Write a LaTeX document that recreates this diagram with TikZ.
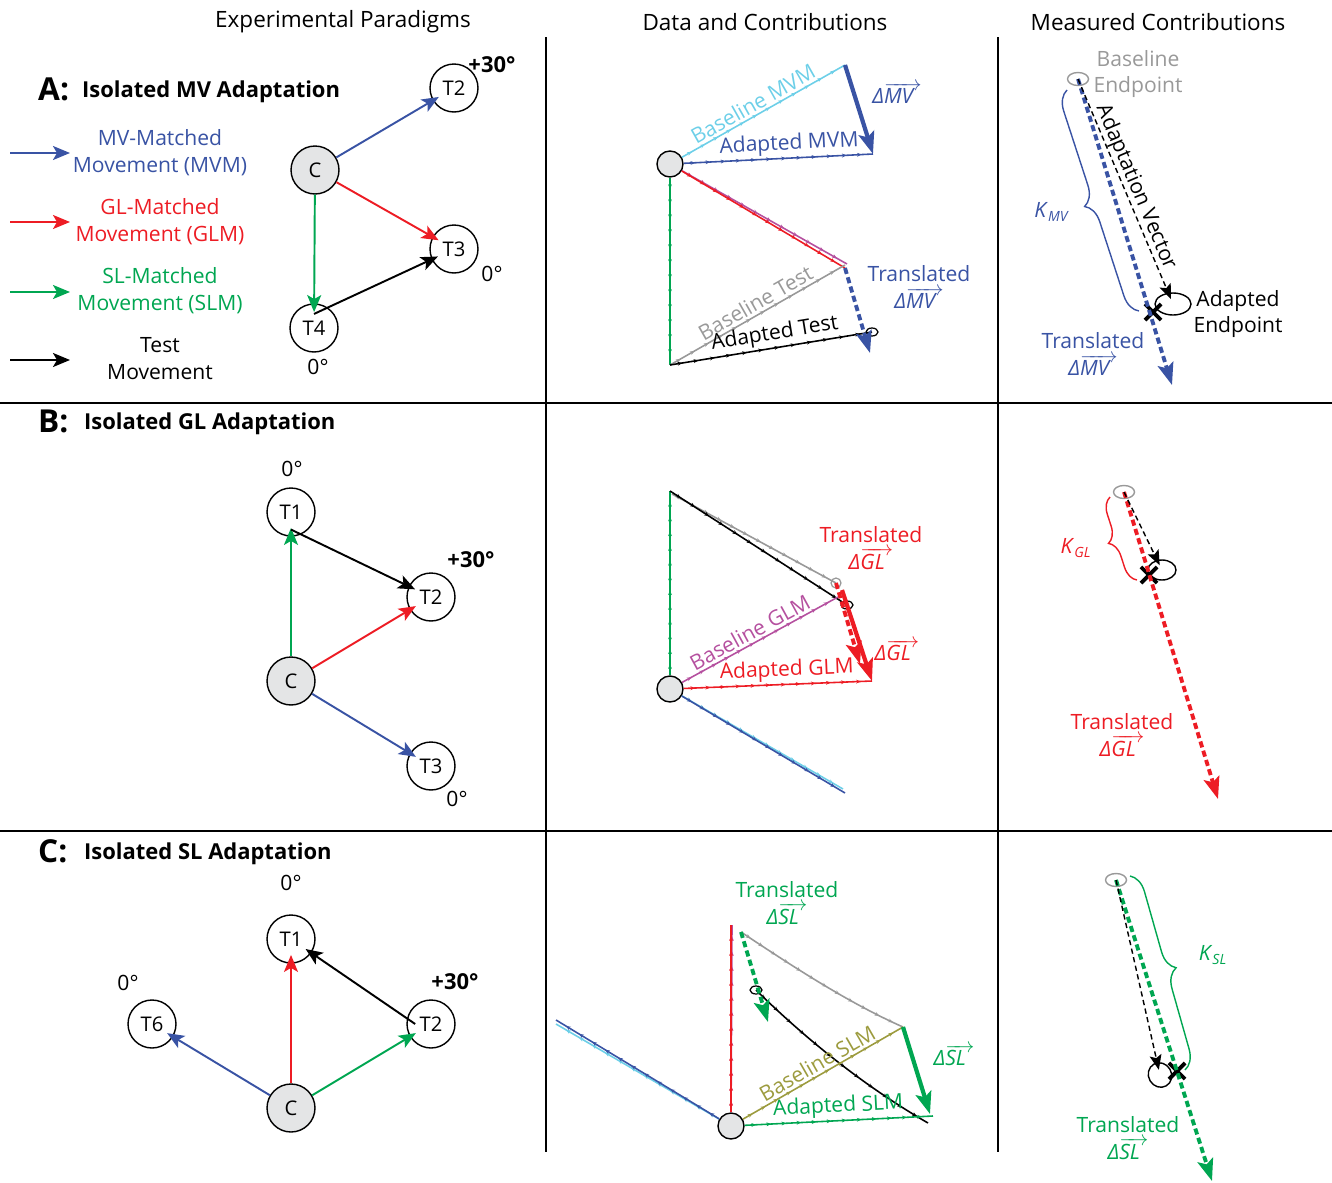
\documentclass[tikz,border=0pt]{standalone}
\usepackage{fontspec}
\setmainfont{Open Sans}
\usetikzlibrary{arrows.meta,shapes.geometric,shapes.misc,decorations.markings,decorations.pathreplacing}
\definecolor{MVBlue}{HTML}{3953A4}
\definecolor{GLRed}{HTML}{ED1C24}
\definecolor{SLGreen}{HTML}{00A651}
\definecolor{BaseCyan}{HTML}{6DCFE8}
\definecolor{BaseMagenta}{HTML}{B5509F}
\definecolor{BaseOlive}{HTML}{9C9B3E}
\definecolor{EndGray}{HTML}{999999}
\definecolor{HomeFill}{HTML}{E4E5E6}
\newcommand{\dvec}[1]{{\itshape Δ}$\overrightarrow{\textit{#1}\hspace{0.4em}}$}
\newcommand{\kgain}[1]{\textit{K}\textsubscript{\textit{#1}}}

\begin{document}
\begin{tikzpicture}[
    x=0.02cm, y=-0.02cm,
    header/.style={font=\fontsize{12.8}{15}\selectfont},
    paneltag/.style={anchor=west, font=\fontsize{18}{20}\selectfont\bfseries},
    paneltitle/.style={anchor=west, font=\fontsize{12.5}{15}\selectfont\bfseries},
    lbl/.style={align=center, font=\fontsize{12}{15.3}\selectfont},
    along/.style={lbl, sloped, above, inner sep=1.5pt},
    degtext/.style={font=\fontsize{12}{14}\selectfont},
    degbold/.style={font=\fontsize{12.5}{14}\selectfont\bfseries},
    target/.style={circle, draw, line width=0.8pt, minimum size=0.96cm,
      inner sep=0pt, font=\fontsize{11.5}{13}\selectfont},
    hometarget/.style={target, fill=HomeFill},
    startdot/.style={circle, draw, line width=0.8pt, fill=HomeFill,
      minimum size=0.52cm, inner sep=0pt},
    move/.style={-{Stealth[length=3.4mm, width=2.8mm, inset=0.8mm]}, line width=1.1pt},
    into/.style={shorten >=-4pt},
    traj/.style={line width=0.9pt, postaction={decorate},
      decoration={markings, mark=between positions 0.06 and 0.96 step 0.08
        with {\arrow{Stealth[length=2.6pt, width=2.2pt]}}}},
    deltaarrow/.style={-{Stealth[length=4.4mm, width=3.2mm, inset=0.9mm]}, line width=2.4pt},
    transarrow/.style={-{Stealth[length=4.4mm, width=3.2mm, inset=0.9mm]}, line width=2.2pt,
      dash pattern=on 3.5pt off 2pt},
    adaptvec/.style={-{Stealth[length=3mm, width=2.4mm, inset=0.6mm]}, line width=0.8pt,
      dash pattern=on 3pt off 2pt},
    basept/.style={ellipse, draw=EndGray, line width=0.8pt, minimum width=0.42cm,
      minimum height=0.26cm, inner sep=0pt},
    adaptpt/.style={ellipse, draw, line width=0.8pt, inner sep=0pt},
    trialpt/.style={ellipse, draw, line width=0.7pt, minimum width=0.24cm,
      minimum height=0.16cm, inner sep=0pt},
    crossmark/.style={cross out, draw, line width=2.2pt, minimum size=7pt, inner sep=0pt},
    gainbrace/.style={decorate, decoration={brace, amplitude=11pt}, line width=0.8pt},
    divider/.style={line width=1.4pt}
  ]
  \useasboundingbox (0,0) rectangle (1332,1183);

  % column headers and dividers
  \node[header] (hdrParadigm) at (343,22) {Experimental Paradigms};
  \node[header] (hdrData) at (765,22) {Data and Contributions};
  \node[header] (hdrMeasured) at (1158,22) {Measured Contributions};
  \draw[divider] (546,37) -- (546,1152);
  \draw[divider] (998,37) -- (998,1152);
  \draw[divider] (0,403) -- (1332,403);
  \draw[divider] (0,831) -- (1332,831);

  % ---------- A: paradigm ----------
  \node[paneltag] (tagA) at (32,89) {A:};
  \node[paneltitle] (titleA) at (76,92) {Isolated MV Adaptation};

  \coordinate (legMVs) at (10,153);  \coordinate (legMVe) at (70,153);
  \coordinate (legGLs) at (10,222);  \coordinate (legGLe) at (70,222);
  \coordinate (legSLs) at (10,292);  \coordinate (legSLe) at (70,292);
  \coordinate (legTs) at (10,360);   \coordinate (legTe) at (70,360);
  \draw[move, MVBlue] (legMVs) -- (legMVe);
  \draw[move, GLRed] (legGLs) -- (legGLe);
  \draw[move, SLGreen] (legSLs) -- (legSLe);
  \draw[move] (legTs) -- (legTe);
  \node[lbl, MVBlue] (legMV) at (160,153) {MV-Matched\\Movement (MVM)};
  \node[lbl, GLRed] (legGL) at (160,222) {GL-Matched\\Movement (GLM)};
  \node[lbl, SLGreen] (legSL) at (160,291) {SL-Matched\\Movement (SLM)};
  \node[lbl] (legT) at (160,359) {Test\\Movement};

  \node[hometarget] (cA) at (315,170) {C};
  \node[target] (t2A) at (454,88) {T2};
  \node[target] (t3A) at (454,249) {T3};
  \node[target] (t4A) at (314,328) {T4};
  \draw[move, into, MVBlue] (cA) -- (t2A);
  \draw[move, into, GLRed] (cA) -- (t3A);
  \draw[move, SLGreen, shorten >=-5pt] (cA) -- (t4A);
  \draw[move, into] ([yshift=8pt]t4A.center) -- (t3A);
  \node[degbold] (degA2) at (492,65) {+30°};
  \node[degtext] (degA3) at (492,274) {0°};
  \node[degtext] (degA4) at (318,367) {0°};

  % ---------- A: data ----------
  \node[startdot] (sA) at (670,164) {};
  \coordinate (mvmBaseA) at (845,65);
  \coordinate (mvmAdaptA) at (873,154);
  \coordinate (glmEndA) at (845,268);
  \coordinate (slmEndA) at (670,365);
  \coordinate (testBaseA) at (845,265);
  \coordinate (transEndA) at (870,353);
  \node[trialpt] (testAdaptA) at (872,332) {};
  \draw[traj, BaseCyan] (sA) -- node[along, pos=0.47] {Baseline MVM} (mvmBaseA);
  \draw[traj, MVBlue] (sA) -- node[along, pos=0.56] {Adapted MVM} (mvmAdaptA);
  \draw[deltaarrow, MVBlue] (mvmBaseA) -- (mvmAdaptA);
  \draw[traj, BaseMagenta] (sA) -- (847,264);
  \draw[traj, GLRed] (sA) -- (glmEndA);
  \draw[traj, SLGreen] (sA) -- (slmEndA);
  \draw[traj, EndGray] (slmEndA) -- node[along, pos=0.52] {Baseline Test} (testBaseA);
  \draw[traj] (slmEndA) -- node[along, pos=0.53] {Adapted Test} (testAdaptA.center);
  \draw[transarrow, MVBlue] (glmEndA) -- (transEndA);
  \node[lbl, MVBlue] (dmvA) at (897,93) {\dvec{MV}};
  \node[lbl, MVBlue] (transMVA) at (919,287) {Translated\\\dvec{MV}};

  % ---------- A: measured ----------
  \node[basept] (baseEndA) at (1078,79) {};
  \node[adaptpt, minimum width=0.72cm, minimum height=0.44cm] (adaptEndA) at (1173,304) {};
  \node[crossmark] (crossA) at (1153,312) {};
  \coordinate (transTipA) at (1172,385);
  \draw[transarrow, MVBlue] (baseEndA.center) -- (transTipA);
  \draw[adaptvec, shorten >=3pt] (baseEndA.center) -- node[along, inner sep=0pt] {Adaptation Vector} (adaptEndA.center);
  \coordinate (braceTopA) at (1067,90);
  \coordinate (braceBotA) at (1139,311);
  \draw[gainbrace, MVBlue] (braceBotA) -- (braceTopA);
  \node[lbl, MVBlue] (kMV) at (1052,212) {\kgain{MV}};
  \node[lbl, EndGray] (baseTxtA) at (1138,74) {Baseline\\Endpoint};
  \node[lbl] (adaptTxtA) at (1238,314) {Adapted\\Endpoint};
  \node[lbl, MVBlue] (transTxtA) at (1093,354) {Translated\\\dvec{MV}};

  % ---------- B: paradigm ----------
  \node[paneltag] (tagB) at (32,421) {B:};
  \node[paneltitle] (titleB) at (78,424) {Isolated GL Adaptation};
  \node[hometarget] (cB) at (291,681) {C};
  \node[target] (t1B) at (291,512) {T1};
  \node[target] (t2B) at (431,597) {T2};
  \node[target] (t3B) at (431,766) {T3};
  \draw[move, SLGreen, shorten >=-5pt] (cB) -- (t1B);
  \draw[move, into, GLRed] (cB) -- (t2B);
  \draw[move, into, MVBlue] (cB) -- (t3B);
  \draw[move, into] ([yshift=-10pt]t1B.center) -- (t2B);
  \node[degtext] (degB1) at (292,469) {0°};
  \node[degbold] (degB2) at (471,560) {+30°};
  \node[degtext] (degB3) at (457,799) {0°};

  % ---------- B: data ----------
  \node[startdot] (sB) at (670,689) {};
  \coordinate (slmTopB) at (670,491);
  \coordinate (glmBaseB) at (838,597);
  \coordinate (glmAdaptB) at (872,681);
  \node[trialpt] (testAdaptB) at (847,605) {};
  \node[trialpt, draw=EndGray, minimum width=0.2cm, minimum height=0.2cm] (testBaseB) at (836,583) {};
  \draw[traj, SLGreen] (sB) -- (slmTopB);
  \draw[traj, EndGray] (672,494) -- (testBaseB.center);
  \draw[traj] (slmTopB) -- (testAdaptB.center);
  \draw[traj, BaseMagenta] (sB) -- node[along, pos=0.47] {Baseline GLM} (glmBaseB);
  \draw[traj, GLRed] (sB) -- node[along, pos=0.55] {Adapted GLM} (glmAdaptB);
  \draw[traj, BaseCyan] (sB) -- (843,789);
  \draw[traj, MVBlue] (sB) -- (845,793);
  \draw[deltaarrow, GLRed] (842,590) -- (glmAdaptB);
  \draw[transarrow, GLRed] (testBaseB.center) -- (860,664);
  \node[lbl, GLRed] (dglB) at (897,650) {\dvec{GL}};
  \node[lbl, GLRed] (transGLB) at (871,548) {Translated\\\dvec{GL}};

  % ---------- B: measured ----------
  \node[basept] (baseEndB) at (1124,492) {};
  \node[adaptpt, minimum width=0.56cm, minimum height=0.4cm] (adaptEndB) at (1162,570) {};
  \node[crossmark] (crossB) at (1149,575) {};
  \draw[transarrow, GLRed] (baseEndB.center) -- (1218,799);
  \draw[adaptvec, shorten >=3pt] (baseEndB.center) -- (adaptEndB.center);
  \draw[gainbrace, GLRed, decoration={amplitude=9pt}] (1137,580) -- (1110,497);
  \node[lbl, GLRed] (kGL) at (1076,548) {\kgain{GL}};
  \node[lbl, GLRed] (transTxtB) at (1122,735) {Translated\\\dvec{GL}};

  % ---------- C: paradigm ----------
  \node[paneltag] (tagC) at (32,851) {C:};
  \node[paneltitle] (titleC) at (78,854) {Isolated SL Adaptation};
  \node[hometarget] (cC) at (291,1108) {C};
  \node[target] (t1C) at (291,939) {T1};
  \node[target] (t2C) at (431,1024) {T2};
  \node[target] (t6C) at (152,1024) {T6};
  \draw[move, GLRed, shorten >=-5pt] (cC) -- (t1C);
  \draw[move, into, SLGreen] (cC) -- (t2C);
  \draw[move, into, MVBlue] (cC) -- (t6C);
  \draw[move, into] ([xshift=-9pt]t2C.center) -- (t1C);
  \node[degtext] (degC1) at (291,883) {0°};
  \node[degbold] (degC2) at (455,982) {+30°};
  \node[degtext] (degC6) at (128,983) {0°};

  % ---------- C: data ----------
  \node[startdot] (sC) at (731,1126) {};
  \coordinate (slmBaseC) at (903,1027);
  \coordinate (slmAdaptC) at (933,1116);
  \coordinate (testBaseC) at (741,932);
  \node[trialpt] (testAdaptC) at (756,990) {};
  \draw[traj, BaseCyan] (sC) -- (556,1024);
  \draw[traj, MVBlue] (sC) -- (556,1020);
  \draw[traj, BaseMagenta] (sC) -- (732,925);
  \draw[traj, GLRed] (sC) -- (731,925);
  \draw[traj, EndGray] (testBaseC) .. controls (795,968) and (849,1003) .. (slmBaseC);
  \draw[traj] (testAdaptC.center) .. controls (813,1046) and (871,1090) .. (928,1123);
  \draw[traj, BaseOlive] (sC) -- node[along, pos=0.5] {Baseline SLM} (slmBaseC);
  \draw[traj, SLGreen] (sC) -- node[along, pos=0.5] {Adapted SLM} (slmAdaptC);
  \draw[deltaarrow, SLGreen] (slmBaseC) -- (930,1114);
  \draw[transarrow, SLGreen] (testBaseC) -- (768,1022);
  \node[lbl, SLGreen] (dslC) at (954,1055) {\dvec{SL}};
  \node[lbl, SLGreen] (transSLC) at (787,903) {Translated\\\dvec{SL}};

  % ---------- C: measured ----------
  \node[basept] (baseEndC) at (1116,880) {};
  \node[adaptpt, minimum width=0.46cm, minimum height=0.5cm, rotate=30] (adaptEndC) at (1160,1075) {};
  \node[crossmark] (crossC) at (1177,1071) {};
  \draw[transarrow, SLGreen] (baseEndC.center) -- (1212,1181);
  \draw[adaptvec, shorten >=3pt] (baseEndC.center) -- (adaptEndC.center);
  \draw[gainbrace, SLGreen] (1130,876) -- (1185,1070);
  \node[lbl, SLGreen] (kSL) at (1213,955) {\kgain{SL}};
  \node[lbl, SLGreen] (transTxtC) at (1128,1138) {Translated\\\dvec{SL}};
\end{tikzpicture}
\end{document}
